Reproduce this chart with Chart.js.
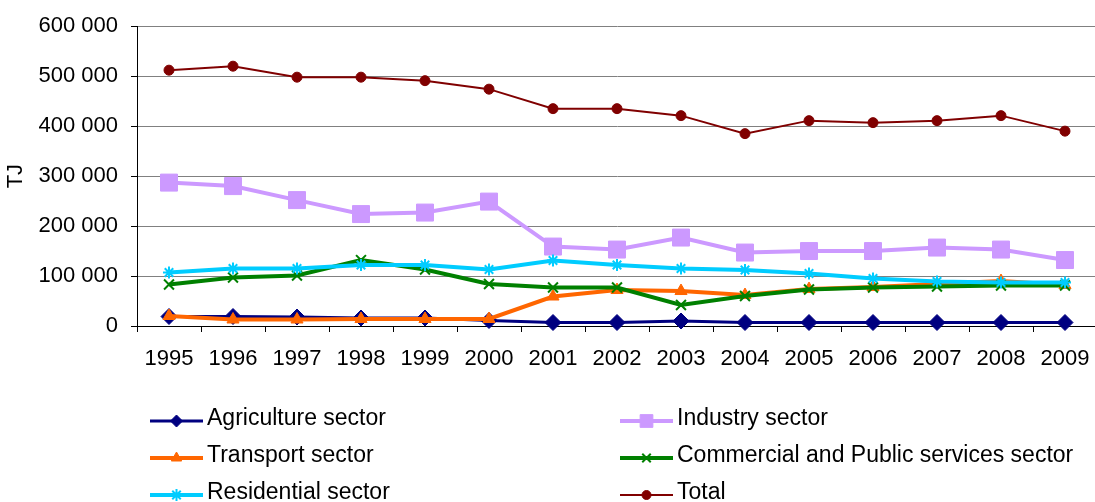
<!DOCTYPE html>
<html>
<head>
<meta charset="utf-8">
<script src="https://cdn.jsdelivr.net/npm/chart.js@4/dist/chart.umd.min.js"></script>
<style>
  html, body { margin: 0; padding: 0; overflow: hidden; background: #fff; }
  #wrap { width: 1110px; height: 502px; }
</style>
</head>
<body>
<div id="wrap"><canvas id="chart" width="1110" height="502"></canvas></div>
<script>
// Final energy consumption by sector, TJ

const years       = ['1995', '1996', '1997', '1998', '1999', '2000', '2001', '2002', '2003', '2004', '2005', '2006', '2007', '2008', '2009']
const agriculture = [19000, 19000, 18000, 16000, 16000, 11000, 7000, 7000, 10000, 7000, 7000, 7000, 7000, 7000, 7000]
const industry    = [287000, 280000, 252000, 224000, 227000, 249000, 159000, 153000, 177000, 147000, 150000, 150000, 157000, 153000, 132000]
const transport   = [20000, 13000, 13000, 14000, 14000, 14000, 59000, 72000, 70000, 62000, 74000, 78000, 84000, 90000, 82000]
const commercial  = [83000, 97000, 101000, 132000, 113000, 84000, 77000, 77000, 42000, 60000, 73000, 77000, 79000, 81000, 81000]
const residential = [107000, 115000, 115000, 122000, 122000, 113000, 131000, 122000, 115000, 112000, 105000, 95000, 89000, 87000, 87000]
const total       = [512000, 520000, 498000, 498000, 491000, 474000, 435000, 435000, 421000, 385000, 411000, 407000, 411000, 421000, 390000]

const yTicks = [0, 100000, 200000, 300000, 400000, 500000, 600000]

const FONT = '"Liberation Sans", Arial, sans-serif'

// label, data, colour, line width, point style, radius, legend radius, legend column/row, draw order
const series = [
  { label: 'Agriculture sector',                    data: agriculture, color: '#000080', width: 3, style: 'rectRot',  r: 8,  lr: 6,   col: 0, row: 0, order: 6 },
  { label: 'Industry sector',                       data: industry,    color: '#CC99FF', width: 4, style: 'rect',     r: 12, lr: 9,   col: 1, row: 0, order: 5 },
  { label: 'Transport sector',                      data: transport,   color: '#FF6600', width: 4, style: 'triangle', r: 7,  lr: 6,   col: 0, row: 1, order: 4 },
  { label: 'Commercial and Public services sector', data: commercial,  color: '#008000', width: 4, style: 'crossRot', r: 7,  lr: 6,   col: 1, row: 1, order: 3 },
  { label: 'Residential sector',                    data: residential, color: '#00CCFF', width: 4, style: 'star',     r: 6,  lr: 6,   col: 0, row: 2, order: 2 },
  { label: 'Total',                                 data: total,       color: '#800000', width: 2, style: 'circle',   r: 5,  lr: 4.5, col: 1, row: 2, order: 1 }
]

const formatThousands = v => String(v).replace(/\B(?=(\d{3})+(?!\d))/g, ' ')

// Two-column legend under the plot, like the spreadsheet original
const legendPlugin = {
  id: 'sheetLegend',
  afterDraw(chart)
  {
    const ctx   = chart.ctx
    const colX  = [150, 620]
    const rowY  = [421, 458, 495]
    const lineW = 53

    ctx.save()
    series.forEach(s => {
      const x = colX[s.col]
      const y = rowY[s.row]

      ctx.strokeStyle = s.color
      ctx.fillStyle   = s.color
      ctx.lineWidth   = s.width
      ctx.beginPath()
      ctx.moveTo(x, y)
      ctx.lineTo(x + lineW, y)
      ctx.stroke()

      if( Chart.helpers && Chart.helpers.drawPoint )
      {
        ctx.lineWidth = (s.style === 'star' || s.style === 'crossRot') ? 2 : 1
        Chart.helpers.drawPoint(ctx, { pointStyle: s.style, radius: s.lr, rotation: 0, borderWidth: ctx.lineWidth }, x + lineW / 2, y)
      }

      ctx.fillStyle    = '#000'
      ctx.font         = '23px ' + FONT
      ctx.textBaseline = 'middle'
      ctx.textAlign    = 'left'
      ctx.fillText(s.label, x + lineW + 4, y - 2)
    })
    ctx.restore()
  }
}

const datasets = series.map(s => ({
  label:            s.label,
  data:             s.data,
  borderColor:      s.color,
  backgroundColor:  s.color,
  borderWidth:      s.width,
  pointStyle:       s.style,
  pointRadius:      s.r,
  pointBorderWidth: (s.style === 'star' || s.style === 'crossRot') ? 2 : 1,
  pointBackgroundColor: s.color,
  pointBorderColor: s.color,
  tension:          0,
  fill:             false,
  order:            s.order,
  clip:             false
}))

new Chart(document.getElementById('chart'), {
  type: 'line',
  data: { labels: years, datasets: datasets },
  plugins: [legendPlugin],
  options: {
    responsive:       false,
    animation:        false,
    devicePixelRatio: 1,
    layout: { padding: { top: 26, right: 9, bottom: 0, left: 0 } },
    plugins: {
      legend:  { display: false },
      tooltip: { enabled: false }
    },
    scales: {
      x: {
        offset: true,
        grid: {
          offset:          true,
          drawOnChartArea: false,
          drawTicks:       true,
          tickLength:      6,
          tickColor:       '#000'
        },
        border: { color: '#000', width: 1 },
        ticks: {
          color:       '#000',
          font:        { family: FONT, size: 22 },
          padding:     14,
          maxRotation: 0,
          autoSkip:    false
        },
        afterFit: scale => { scale.height = 176 }
      },
      y: {
        min: 0,
        max: 600000,
        afterBuildTicks: scale => { scale.ticks = yTicks.map(v => ({ value: v })) },
        grid: {
          color:      '#808080',
          lineWidth:  1,
          tickLength: 6,
          tickColor:  '#000'
        },
        border: { color: '#000', width: 1 },
        ticks: {
          color:    '#000',
          font:     { family: FONT, size: 22 },
          padding:  13,
          callback: v => formatThousands(v)
        },
        title: {
          display: true,
          text:    'TJ',
          color:   '#000',
          font:    { family: FONT, size: 22 },
          padding: { top: 3, bottom: 0 }
        },
        afterFit: scale => { scale.width = 137 }
      }
    }
  }
})
</script>
</body>
</html>
